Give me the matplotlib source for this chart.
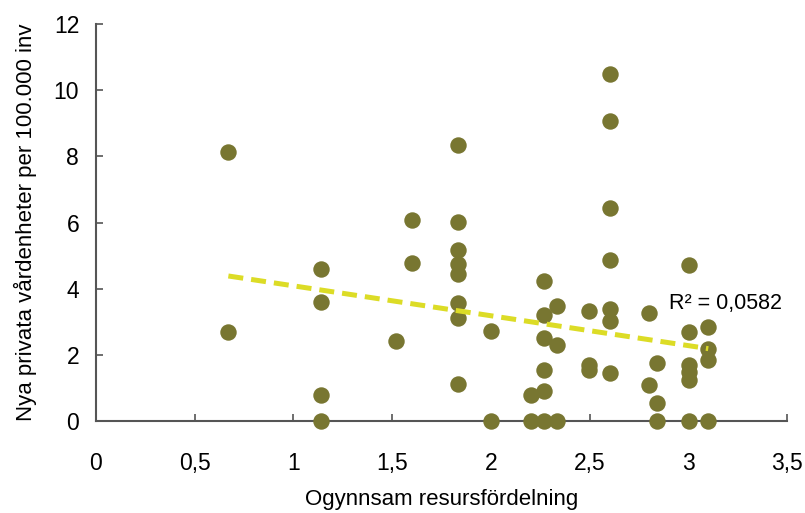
import numpy as np
import matplotlib
matplotlib.use("Agg")
import matplotlib.pyplot as plt

plt.rcParams['font.family'] = ['Liberation Sans', 'DejaVu Sans']

# values
resurs = [0.671, 0.671,
          1.142, 1.142, 1.142, 1.142,
          1.518, 1.598, 1.598,
          1.832, 1.832, 1.832, 1.832, 1.832, 1.832, 1.832, 1.832,
          2.0, 2.0,
          2.201, 2.201,
          2.27, 2.27, 2.27, 2.27, 2.27, 2.27,
          2.333, 2.333, 2.333,
          2.498, 2.498, 2.498,
          2.603, 2.603, 2.603, 2.603, 2.603, 2.603, 2.603,
          2.80, 2.80,
          2.839, 2.839, 2.839,
          3.004, 3.004, 3.004, 3.004, 3.004, 3.004,
          3.10, 3.10, 3.10, 3.10]
enheter = [8.12, 2.70,
           4.59, 3.61, 0.79, 0.0,
           2.42, 6.07, 4.77,
           8.36, 6.03, 5.18, 4.75, 4.46, 3.58, 3.13, 1.12,
           2.74, 0.0,
           0.79, 0.0,
           4.24, 3.20, 2.50, 1.56, 0.92, 0.0,
           3.48, 2.30, 0.0,
           3.33, 1.70, 1.54,
           10.48, 9.07, 6.43, 4.87, 3.38, 3.03, 1.47,
           3.26, 1.09,
           1.76, 0.55, 0.0,
           4.72, 2.70, 1.69, 1.49, 1.24, 0.0,
           2.85, 2.17, 1.86, 0.0]
x_ticks = [0, 0.5, 1, 1.5, 2, 2.5, 3, 3.5]
y_ticks = [0, 2, 4, 6, 8, 10, 12]

x = np.array(resurs)
y = np.array(enheter)

fig = plt.figure(figsize=(8.05, 5.13), dpi=100)
ax = fig.add_axes([0.119, 0.179, 0.859, 0.774])

ax.scatter(x, y, s=140, color='#787631', zorder=3, clip_on=False, linewidths=0)

# linear trend line
k, m = np.polyfit(x, y, 1)
xs = np.array([x.min(), x.max()])
ax.plot(xs, k * xs + m, color='#dcdc26', lw=3.6, dashes=(3, 1.6), zorder=4)
ax.text(2.9, 3.56, 'R² = 0,0582', fontsize=15.5, va='center', ha='left')

ax.set_xlim(0, 3.5)
ax.set_ylim(0, 12)
ax.set_xticks(x_ticks)
ax.set_yticks(y_ticks)
ax.set_xticklabels([str(t).replace('.', ',') for t in x_ticks])
ax.set_yticklabels([str(t) for t in y_ticks])
ax.tick_params(direction='in', length=5, width=1.2, colors='#555555', labelcolor='black', labelsize=16.5, pad=12)
ax.tick_params(axis='x', pad=22)

for side in ['top', 'right']:
    ax.spines[side].set_visible(False)
for side in ['left', 'bottom']:
    ax.spines[side].set_color('#555555')
    ax.spines[side].set_linewidth(1.5)

ax.set_xlabel('Ogynnsam resursfördelning', fontsize=16, labelpad=10)
ax.set_ylabel('Nya privata vårdenheter per 100.000 inv', fontsize=16, labelpad=12)

fig.savefig('out.png', dpi=100)
